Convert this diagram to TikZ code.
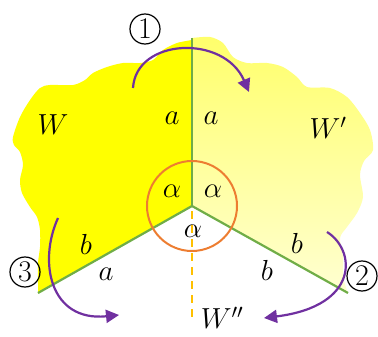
\RequirePackage{fix-cm}
\documentclass[tikz,border=0pt]{standalone}
\usepackage{amsmath}
\usepackage{xcolor}
\usepackage{tikz}
\usetikzlibrary{arrows.meta}
\definecolor{edgegreen}{RGB}{112,173,71}
\definecolor{ringorange}{RGB}{237,125,49}
\definecolor{dashamber}{RGB}{255,192,0}
\definecolor{turnpurple}{RGB}{112,48,160}
\definecolor{sheetyellow}{RGB}{255,255,0}

\begin{document}
\begin{tikzpicture}[x=1pt, y=-1pt,
  edge/.style={edgegreen, line width=2.2pt},
  turn/.style={turnpurple, line width=2.2pt, -{Triangle[length=13pt, width=13pt]}},
  lbl/.style={font=\fontsize{29}{32}\selectfont},
  num/.style={circle, draw, line width=1.2pt, minimum size=30pt, inner sep=0pt, font=\fontsize{30}{32}\selectfont},
]
\useasboundingbox (0,0) rectangle (378,337);

% ===== corner points =====
\coordinate (ctr) at (192,206);
\coordinate (top) at (192,38);
\coordinate (lft) at (38,293);
\coordinate (rgt) at (348,293);
\coordinate (bot) at (192,320);

% ===== regions W and W' =====
\fill[sheetyellow] (ctr) -- plot[smooth] coordinates {(192,40) (177,43) (163,50) (153,60) (140,63)
  (123,63) (107,67) (93,73) (85,80) (73,85) (50,85) (40,88) (30,100) (20,117) (13,137)
  (14,145) (20,152) (23,165) (20,180) (22,193) (30,207) (37,217) (40,230) (40,247)
  (38,263) (38,283) (38,293)} -- cycle;
\shade[top color=sheetyellow!58, bottom color=sheetyellow!18] (ctr) -- plot[smooth] coordinates {(192,38)
  (210,37) (223,43) (233,57) (247,63) (267,63) (283,67) (297,77) (307,87) (330,88)
  (347,97) (360,113) (370,130) (373,150) (364,161) (360,175) (363,197) (357,213)
  (347,227) (340,238) (343,257) (343,277) (348,293)} -- cycle;

% ===== folds =====
\draw[edge] (ctr) -- (top);
\draw[edge] (ctr) -- (lft);
\draw[edge] (ctr) -- (rgt);
\draw[dashamber, line width=2pt, dash pattern=on 8pt off 6pt] (ctr) ++(0,5) -- (bot);
\draw[ringorange, line width=2pt] (ctr) circle (45);

% ===== turns =====
\coordinate (s1) at (133,88);
\coordinate (e1) at (249,92);
\coordinate (s2) at (327,232);
\coordinate (e2) at (264,318);
\coordinate (s3) at (58,218);
\coordinate (e3) at (119,315);
\draw[turn] (s1) .. controls (136,38) and (224,34) .. (e1);
\draw[turn] (s2) .. controls (356,250) and (360,306) .. (e2);
\draw[turn] (s3) .. controls (38,262) and (50,322) .. (e3);

\node[num] (n1) at (145,29) {1};
\node[num] (n2) at (362,276) {2};
\node[num] (n3) at (25,272) {3};

% ===== labels =====
\node[lbl] (lw) at (53,125) {$W$};
\node[lbl] (lw1) at (328,128) {$W'$};
\node[lbl] (lw2) at (222,318) {$W''$};
\node[lbl] (la1) at (172,118) {$a$};
\node[lbl] (la2) at (211,118) {$a$};
\node[lbl] (lal1) at (172,191) {$\alpha$};
\node[lbl] (lal2) at (213,191) {$\alpha$};
\node[lbl] (lal3) at (193,231) {$\alpha$};
\node[lbl] (lb1) at (86,244) {$b$};
\node[lbl] (la3) at (106,274) {$a$};
\node[lbl] (lb2) at (297,243) {$b$};
\node[lbl] (lb3) at (267,270) {$b$};

\end{tikzpicture}
\end{document}
